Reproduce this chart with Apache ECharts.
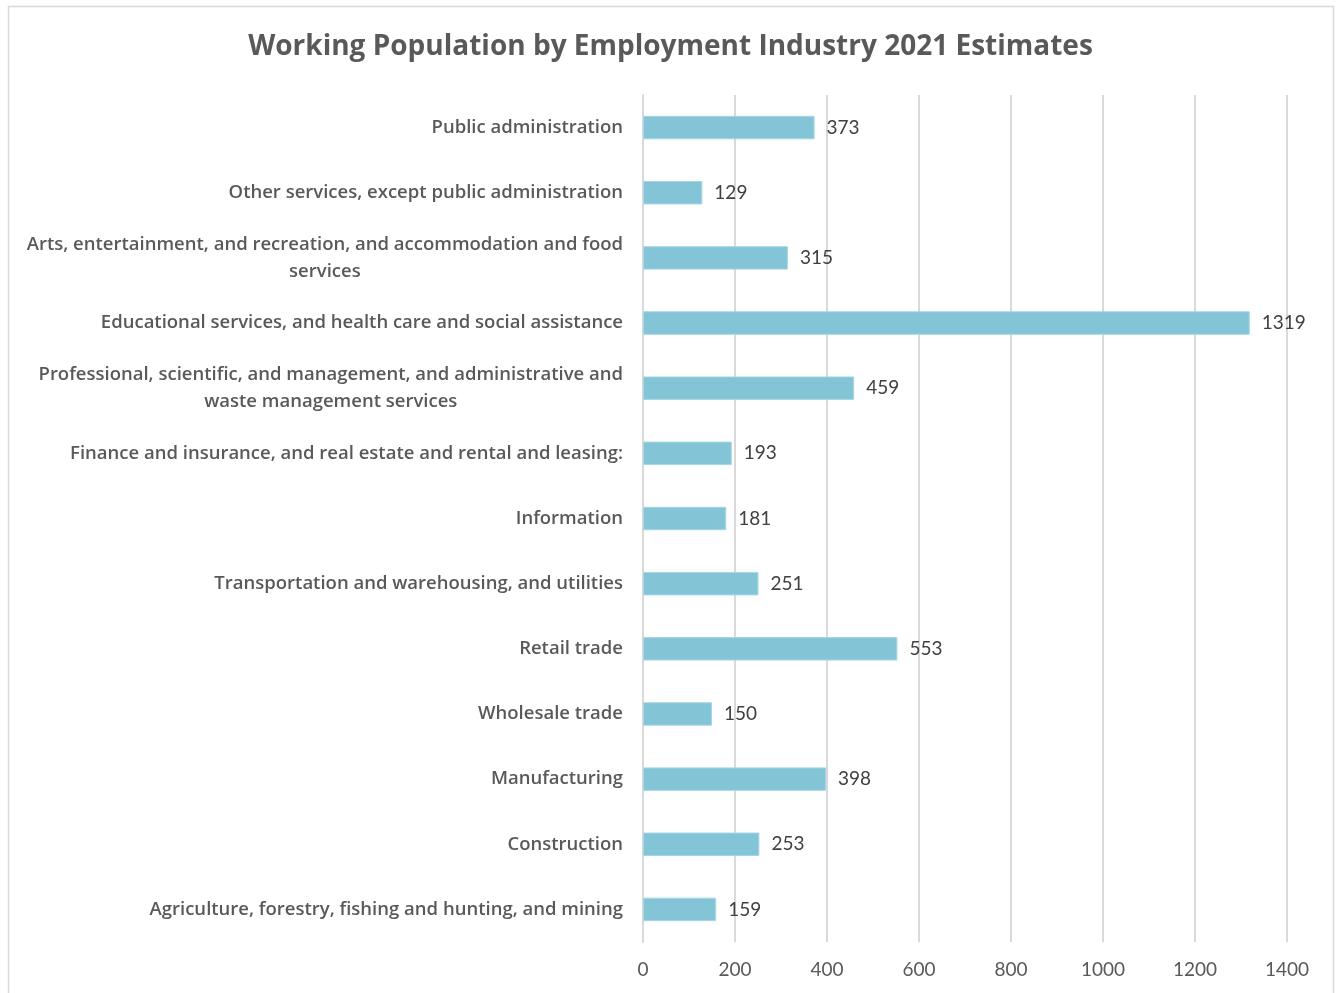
<!DOCTYPE html>
<html>
<head>
<meta charset="utf-8">
<script src="https://cdn.jsdelivr.net/npm/echarts@6/dist/echarts.min.js"></script>
<style>
html,body{margin:0;padding:0;background:#fff;}
#chart{width:1341px;height:993px;}
</style>
</head>
<body>
<div id="chart"></div>
<script>
const titleText = 'Working Population by Employment Industry 2021 Estimates';
// bottom to top
const categories = [
  'Agriculture, forestry, fishing and hunting, and mining',
  'Construction',
  'Manufacturing',
  'Wholesale trade',
  'Retail trade',
  'Transportation and warehousing, and utilities',
  'Information',
  'Finance and insurance, and real estate and rental and leasing:',
  'Professional, scientific, and management, and administrative and\nwaste management services',
  'Educational services, and health care and social assistance',
  'Arts, entertainment, and recreation, and accommodation and food\nservices',
  'Other services, except public administration',
  'Public administration'
];
const values = [159, 253, 398, 150, 553, 251, 181, 193, 459, 1319, 315, 129, 373];
const xTicks = {min: 0, max: 1400, interval: 200};

const chart = echarts.init(document.getElementById('chart'));
const FONT = 'Lato';
const CAT_FONT = 'Open Sans';
chart.setOption({
  backgroundColor: '#fff',
  animation: false,
  graphic: [{
    type: 'rect', silent: true, z: -10,
    shape: {x: 8.5, y: 6.5, width: 1325, height: 995},
    style: {fill: 'none', stroke: '#d9d9d9', lineWidth: 1.5}
  }],
  title: {
    text: titleText, left: 'center', top: 28,
    textStyle: {fontFamily: CAT_FONT, fontWeight: 'bold', fontSize: 28, color: '#595959'}
  },
  grid: {left: 643, right: 54, top: 95, bottom: 51, containLabel: false},
  xAxis: {
    type: 'value', min: xTicks.min, max: xTicks.max, interval: xTicks.interval,
    axisLine: {show: false}, axisTick: {show: false},
    splitLine: {lineStyle: {color: '#d9d9d9', width: 2}},
    axisLabel: {fontFamily: FONT, fontSize: 19, color: '#595959', margin: 18, formatter: v => String(v)}
  },
  yAxis: {
    type: 'category', data: categories,
    axisLine: {show: true, lineStyle: {color: '#d9d9d9', width: 2}},
    axisTick: {show: false},
    axisLabel: {
      margin: 20, interval: 0,
      formatter: v => v.split('\n').map(s => '{a|' + s + '}').join('\n'),
      rich: {a: {fontFamily: CAT_FONT, fontWeight: 600, fontSize: 18.5, color: '#595959', align: 'center', lineHeight: 27}}
    }
  },
  series: [{
    type: 'bar', data: values, barWidth: '36%',
    itemStyle: {color: '#83c5d7', borderColor: '#a6d6e3', borderWidth: 1},
    label: {show: true, position: 'right', distance: 12, fontFamily: FONT, fontSize: 19, color: '#404040'}
  }]
});
</script>
</body>
</html>
